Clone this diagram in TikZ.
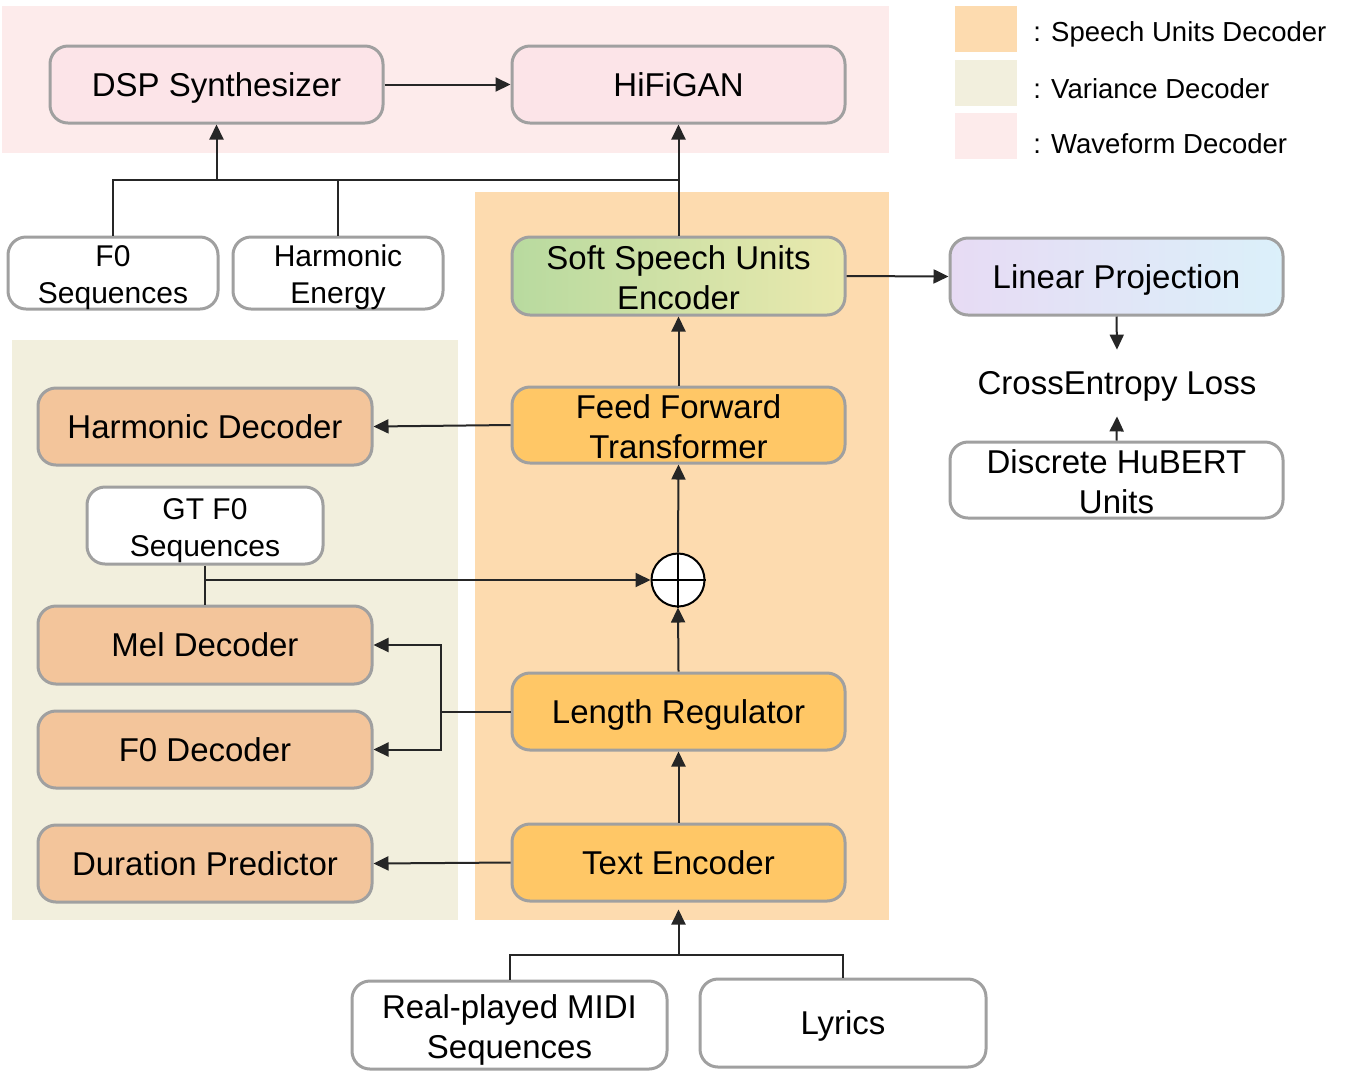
\documentclass[tikz,border=0pt]{standalone}
\usepackage{fontspec}
\setmainfont{Liberation Sans}
\usetikzlibrary{arrows.meta,shapes.geometric}
\definecolor{wavebg}{HTML}{FDEBEB}
\definecolor{speechbg}{HTML}{FDDBAF}
\definecolor{varbg}{HTML}{F2EFDD}
\definecolor{pinkfill}{HTML}{FCE4E8}
\definecolor{orangefill}{HTML}{FFC766}
\definecolor{varfill}{HTML}{F3C59B}
\definecolor{bordergray}{HTML}{A0A0A0}
\definecolor{linecol}{HTML}{262626}
\definecolor{softL}{HTML}{B8DA9F}
\definecolor{softR}{HTML}{EAE9AE}
\definecolor{linL}{HTML}{E7DBF4}
\definecolor{linR}{HTML}{DBF0FA}
\tikzset{
  box/.style={draw=bordergray, line width=1.5pt, rounded corners=9pt, align=center, inner sep=0pt,
    minimum width=166.5pt, minimum height=38.5pt, font=\fontsize{16.5}{20}\selectfont,
    execute at begin node={\rule{0pt}{15.3pt}},
    execute at end node={\rule[-3.5pt]{0pt}{3.5pt}}},
  smallbox/.style={box, font=\fontsize{15}{18.5}\selectfont,
    execute at begin node={\rule{0pt}{13.9pt}},
    execute at end node={\rule[-3.2pt]{0pt}{3.2pt}}},
  twoline/.style={inner ysep=-2pt, execute at begin node={\rule{0pt}{36.5pt}}},
  twosmall/.style={inner ysep=-2pt, execute at begin node={\rule{0pt}{34.3pt}}},
  ln/.style={draw=linecol, line width=1pt},
  arr/.style={ln, -{Triangle[length=7.5pt,width=7pt]}},
  legtext/.style={anchor=base west, inner sep=0pt, font=\fontsize{13.75}{17}\selectfont},
}
\begin{document}
\begin{tikzpicture}[x=0.5pt,y=-0.5pt]
\useasboundingbox (0,0) rectangle (1348,1089);
% backgrounds
\fill[wavebg] (2,6) rectangle (889,153);
\fill[speechbg] (475,192) rectangle (889,920);
\fill[varbg] (12,340) rectangle (458,920);
% legend
\fill[speechbg] (955,6) rectangle (1017,52);
\fill[varbg] (955,60) rectangle (1017,106);
\fill[wavebg] (955,113) rectangle (1017,159);
\node[legtext] (l1) at (1033,41) {: Speech Units Decoder};
\node[legtext] (l2) at (1033,98) {: Variance Decoder};
\node[legtext] (l3) at (1033,153) {: Waveform Decoder};
% nodes
\node[box, fill=pinkfill] (dsp) at (216.5,84.5) {DSP Synthesizer};
\node[box, fill=pinkfill] (hifi) at (678.5,84.5) {HiFiGAN};
\node[smallbox, twosmall, fill=white, minimum width=105pt, minimum height=36pt] (f0s) at (113,273) {F0\\Sequences};
\node[smallbox, twosmall, fill=white, minimum width=105pt, minimum height=36pt] (hen) at (338,273) {Harmonic\\Energy};
\node[box, twoline, left color=softL, right color=softR, minimum height=39pt] (soft) at (678.5,276) {Soft Speech Units\\Encoder};
\node[box, left color=linL, right color=linR] (lin) at (1116.5,276.5) {Linear Projection};
\node[inner sep=0pt, minimum height=33pt, font=\fontsize{16.5}{20}\selectfont] (ce) at (1117,383) {\rule{0pt}{15.3pt}CrossEntropy Loss\rule[-3.5pt]{0pt}{3.5pt}};
\node[box, twoline, fill=white, minimum height=38pt] (hub) at (1116.5,480) {Discrete HuBERT\\Units};
\node[box, twoline, fill=orangefill, minimum height=38pt] (fft) at (678.5,425) {Feed Forward\\Transformer};
\node[box, fill=varfill, minimum width=167pt] (hdec) at (205,426.5) {Harmonic Decoder};
\node[smallbox, twosmall, fill=white, minimum width=118pt] (gtf0) at (205,525.5) {GT F0\\Sequences};
\node[circle, draw=black, line width=1pt, fill=white, minimum size=26.5pt, inner sep=0pt] (plus) at (678,580) {};
\draw[line width=1pt] (plus.north) -- (plus.south) (plus.west) -- (plus.east);
\node[box, fill=varfill, minimum width=167pt, minimum height=39pt] (mel) at (205,645) {Mel Decoder};
\node[box, fill=varfill, minimum width=167pt] (f0dec) at (205,749.5) {F0 Decoder};
\node[box, fill=orangefill] (lr) at (678.5,711.5) {Length Regulator};
\node[box, fill=varfill, minimum width=167pt] (dur) at (205,863.5) {Duration Predictor};
\node[box, fill=orangefill] (te) at (678.5,862.5) {Text Encoder};
\node[box, twoline, fill=white, minimum width=157.5pt, minimum height=44pt] (midi) at (509.5,1025) {Real-played MIDI\\Sequences};
\node[box, fill=white, minimum width=143pt, minimum height=44pt] (lyr) at (843,1023) {Lyrics};
% connectors
\draw[arr] (dsp) -- (hifi);
\coordinate (jr) at (678.5,180);
\draw[ln] (f0s.north) |- (jr);
\draw[ln] (hen.north) -- (hen.north |- jr);
\draw[arr] (dsp.south |- jr) -- (dsp.south);
\draw[arr] (soft.north) -- (hifi.south);
\draw[arr] (soft.east) -- (lin.west);
\draw[arr] (lin.south) -- (ce.north);
\draw[arr] (hub.north) -- (ce.south);
\draw[arr] (fft.north) -- (soft.south);
\draw[arr] (fft.west) -- (hdec.east);
\draw[arr] (plus.north) -- (fft.south);
\draw[ln] (gtf0.south) -- (mel.north);
\draw[arr] (gtf0.south |- plus) -- (plus.west);
\draw[arr] (lr.north) -- (plus.south);
\coordinate (lrj) at (441,711.5);
\draw[ln] (lr.west) -- (lrj);
\draw[arr] (lrj) |- (mel.east);
\draw[arr] (lrj) |- (f0dec.east);
\draw[arr] (te.north) -- (lr.south);
\draw[arr] (te.west) -- (dur.east);
\coordinate (bj) at (678.5,955);
\draw[ln] (midi.north) |- (lyr.north |- bj) -- (lyr.north);
\draw[arr, shorten >=3.5pt] (bj) -- (te.south);
\end{tikzpicture}
\end{document}
